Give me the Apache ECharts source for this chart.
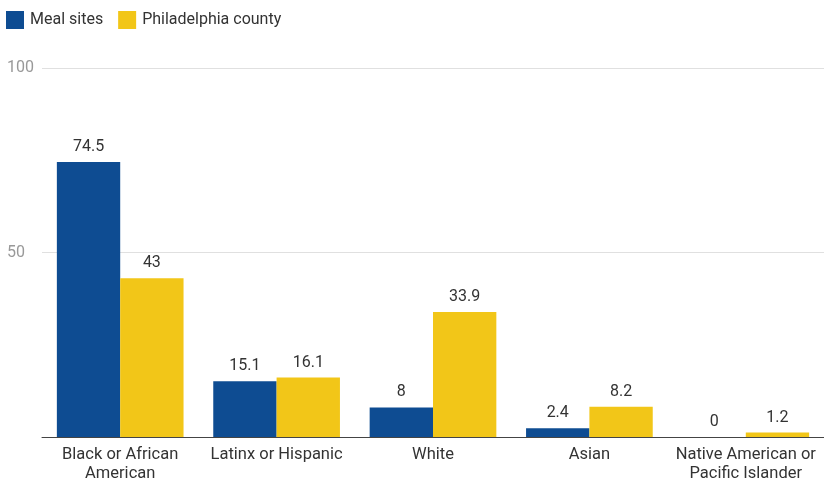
<!DOCTYPE html>
<html><head><meta charset="utf-8">
<script src="https://cdn.jsdelivr.net/npm/echarts@6/dist/echarts.min.js"></script>
<style>html,body{margin:0;padding:0;background:#fff}#c{width:824px;height:481px}</style>
</head><body><div id="c"></div>
<script>
const categories = ["Black or African\nAmerican", "Latinx or Hispanic", "White", "Asian", "Native American or\nPacific Islander"];
const mealSites = [74.5, 15.1, 8, 2.4, 0];
const philadelphia = [43, 16.1, 33.9, 8.2, 1.2];
const seriesNames = ["Meal sites", "Philadelphia county"];
const yTicks = [0, 50, 100];

const chart = echarts.init(document.getElementById('c'));
const font = 'Roboto, sans-serif';
const labelCfg = {show: true, position: 'top', distance: 7, color: '#333', fontSize: 16, fontFamily: font};
chart.setOption({
  animation: false,
  textStyle: {fontFamily: font},
  legend: {
    left: 6, top: 11, padding: 0, itemWidth: 18, itemHeight: 18, itemGap: 15,
    icon: 'rect',
    textStyle: {fontSize: 16, color: '#333', fontFamily: font, padding: [2, 0, 0, 1]},
    data: seriesNames
  },
  grid: {left: 42, right: 0, top: 68, bottom: 44, containLabel: false, outerBoundsMode: 'none'},
  xAxis: {
    type: 'category', data: categories,
    axisLine: {lineStyle: {color: '#444', width: 1}},
    axisTick: {show: false},
    axisLabel: {color: '#333', fontSize: 16.5, fontFamily: font, margin: 8, lineHeight: 19, interval: 0}
  },
  yAxis: {
    type: 'value', min: yTicks[0], max: yTicks[2], interval: 50,
    axisLine: {show: false}, axisTick: {show: false},
    splitLine: {lineStyle: {color: '#e0e0e0'}},
    axisLabel: {color: '#999', fontSize: 16, fontFamily: font, margin: 35, showMinLabel: false,
      verticalAlign: 'middle', align: 'left'}
  },
  series: [
    {name: seriesNames[0], type: 'bar', data: mealSites, itemStyle: {color: '#0e4c92'}, barGap: '0%', barCategoryGap: '19%', label: labelCfg},
    {name: seriesNames[1], type: 'bar', data: philadelphia, itemStyle: {color: '#f2c618'}, label: labelCfg}
  ]
});
</script></body></html>
